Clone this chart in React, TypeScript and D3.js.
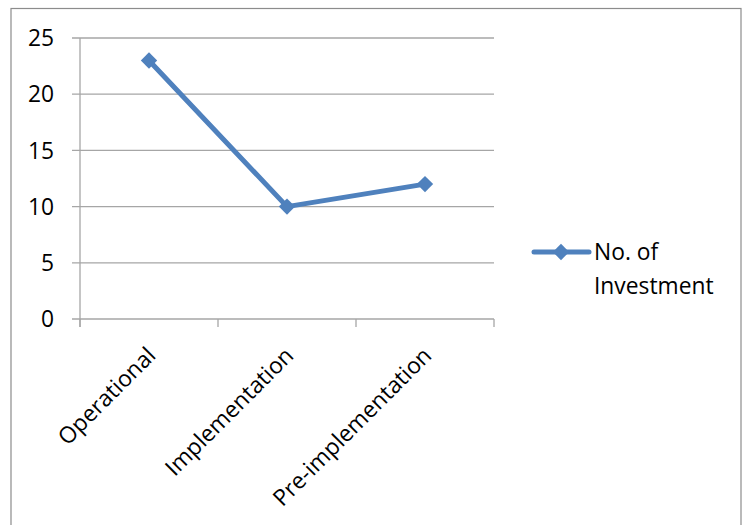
import React from "react";
import * as d3 from "d3";

const categories = ["Operational", "Implementation", "Pre-implementation"];
const investments = [23, 10, 12];
const yTicks = [0, 5, 10, 15, 20, 25];
const seriesName = ["No. of", "Investment"];

const W = 749;
const H = 525;
const plot = { left: 80, right: 494, top: 38, bottom: 319 };
const font = "'Open Sans', Lato, sans-serif";
const blue = "#4F81BD";
const grid = "#A6A6A6";
const fs = 22.8;

export default function App() {
  const x = d3
    .scaleBand<string>()
    .domain(categories)
    .range([plot.left, plot.right]);
  const y = d3.scaleLinear().domain([0, 25]).range([plot.bottom, plot.top]);

  const line = d3
    .line<number>()
    .x((_, i) => (x(categories[i]) as number) + x.bandwidth() / 2)
    .y((d) => y(d));

  const diamond = d3.symbol().type(d3.symbolDiamond2).size(170)();

  const bounds = [...categories.map((c) => x(c) as number), plot.right];

  return (
    <svg
      width={W}
      height={H}
      style={{ position: "absolute", left: 0, top: 0, background: "#fff" }}
      fontFamily={font}
    >
      {/* outer frame */}
      <rect x={11} y={8.5} width={730} height={530} fill="none" stroke="#8C8C8C" strokeWidth={1.2} />

      {/* horizontal gridlines with left tick marks */}
      {yTicks.map((t) => (
        <g key={t}>
          <line x1={plot.left - 8} x2={plot.right} y1={y(t)} y2={y(t)} stroke={grid} strokeWidth={1.3} />
          <text x={54} y={y(t)} dy="0.36em" textAnchor="end" fontSize={fs} fill="#000">
            {t}
          </text>
        </g>
      ))}

      {/* value axis */}
      <line x1={plot.left} x2={plot.left} y1={plot.top} y2={plot.bottom + 8} stroke={grid} strokeWidth={1.3} />

      {/* category tick marks */}
      {bounds.map((b, i) => (
        <line key={i} x1={b} x2={b} y1={plot.bottom} y2={plot.bottom + 8} stroke={grid} strokeWidth={1.3} />
      ))}

      {/* category labels */}
      {categories.map((c) => {
        const cx = (x(c) as number) + x.bandwidth() / 2;
        return (
          <text
            key={c}
            transform={`translate(${cx + 8},${plot.bottom + 38}) rotate(-45)`}
            textAnchor="end"
            fontSize={fs}
            fill="#000"
          >
            {c}
          </text>
        );
      })}

      {/* series */}
      <path d={line(investments) || ""} fill="none" stroke={blue} strokeWidth={5} strokeLinejoin="round" />
      {investments.map((v, i) => (
        <path
          key={i}
          d={diamond || ""}
          transform={`translate(${(x(categories[i]) as number) + x.bandwidth() / 2},${y(v)})`}
          fill={blue}
        />
      ))}

      {/* legend */}
      <g>
        <line x1={534} x2={589} y1={252} y2={252} stroke={blue} strokeWidth={5} strokeLinecap="round" />
        <path d={diamond || ""} transform="translate(561,252)" fill={blue} />
        <text x={594} y={260} fontSize={fs} fill="#000">
          {seriesName[0]}
        </text>
        <text x={594} y={294} fontSize={fs} fill="#000">
          {seriesName[1]}
        </text>
      </g>
    </svg>
  );
}
